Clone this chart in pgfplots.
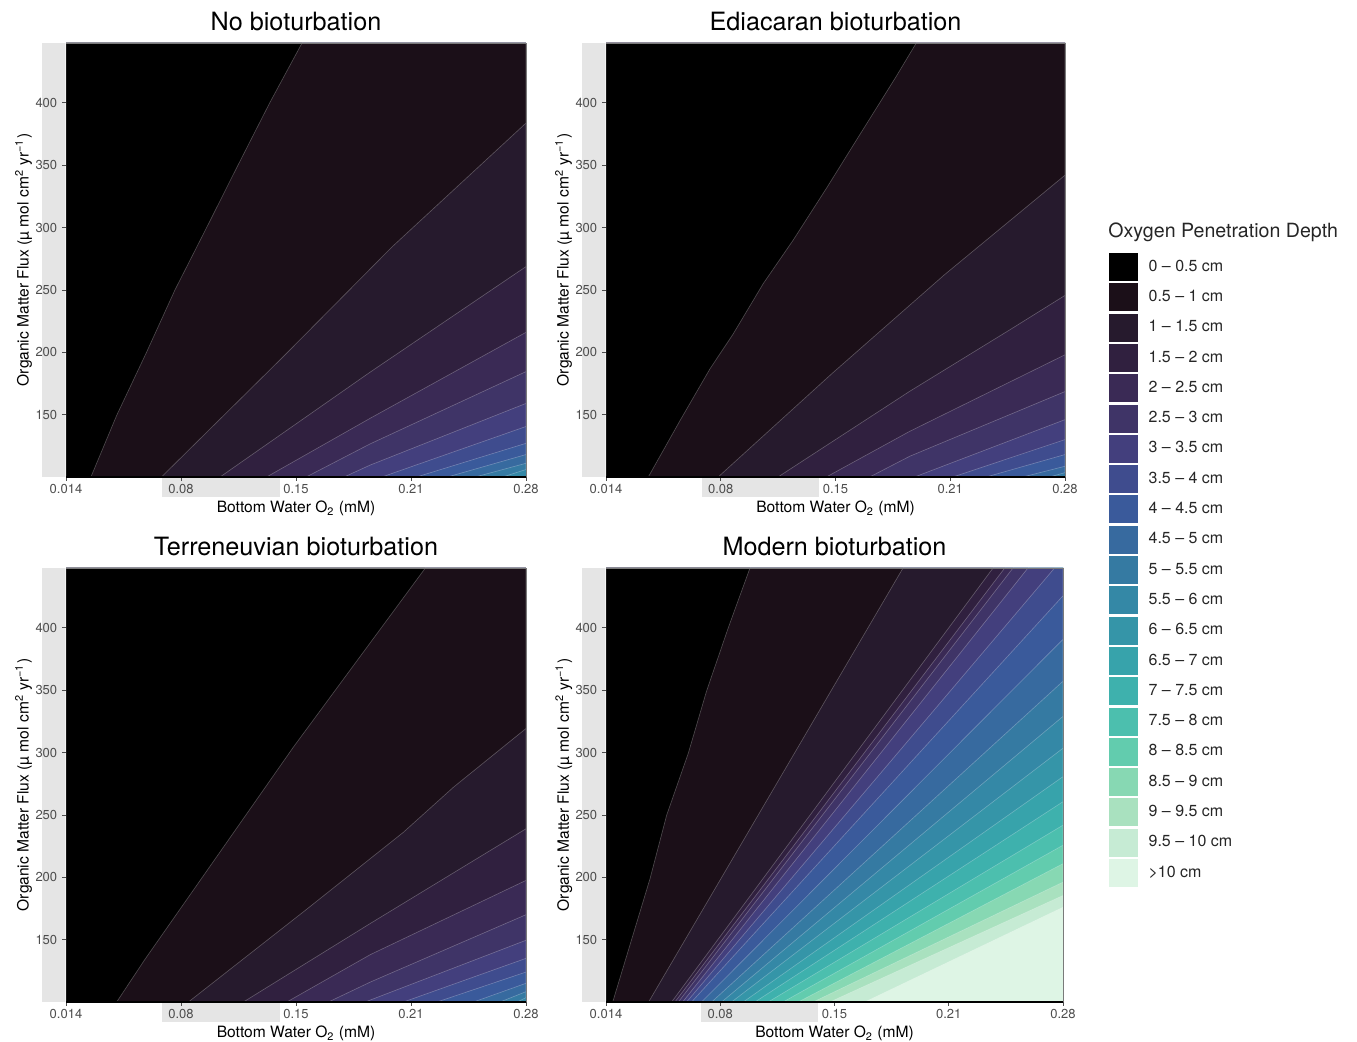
\documentclass[border=0pt]{standalone}
\usepackage{fontspec}
\setmainfont{TeX Gyre Heros}
\usepackage{pgfplots}
\pgfplotsset{compat=1.18}
\definecolor{c0}{HTML}{000000}
\definecolor{c1}{HTML}{1B0F18}
\definecolor{c2}{HTML}{261A2D}
\definecolor{c3}{HTML}{30203F}
\definecolor{c4}{HTML}{3A2A55}
\definecolor{c5}{HTML}{3F3467}
\definecolor{c6}{HTML}{433F7D}
\definecolor{c7}{HTML}{3F4C8E}
\definecolor{c8}{HTML}{3A5A9B}
\definecolor{c9}{HTML}{376A9F}
\definecolor{c10}{HTML}{357AA2}
\definecolor{c11}{HTML}{3488A6}
\definecolor{c12}{HTML}{3595A8}
\definecolor{c13}{HTML}{37A3AB}
\definecolor{c14}{HTML}{3EB1AD}
\definecolor{c15}{HTML}{4CBFAE}
\definecolor{c16}{HTML}{62CCAE}
\definecolor{c17}{HTML}{87D8B3}
\definecolor{c18}{HTML}{A9E1BF}
\definecolor{c19}{HTML}{C6EBD4}
\definecolor{c20}{HTML}{DEF5E5}
\definecolor{strip}{HTML}{E5E5E5}
\definecolor{ticktxt}{HTML}{4D4D4D}
\definecolor{framec}{HTML}{7A7A7A}
\pgfplotsset{
  cf/.style={forget plot, fill=#1, draw=white, draw opacity=0.28, line width=0.3pt},
  panel/.style={
    scale only axis, width=230pt, height=217pt,
    xmin=0.014, xmax=0.28, ymin=100, ymax=448,
    axis on top, clip=false,
    axis lines*=left, axis line style={-},
    x axis line style={black, line width=0.6pt},
    y axis line style={draw=none},
    tick align=outside, major tick length=2pt,
    major tick style={ticktxt, line width=0.4pt},
    xtick={0.014,0.0805,0.147,0.2135,0.28},
    xticklabels={0.014,0.08,0.15,0.21,0.28},
    ytick={150,200,250,300,350,400},
    yticklabels={150,200,250,300,350,400},
    /pgf/number format/assume math mode=true,
    tick label style={font=\fontsize{6.5}{7}\selectfont, color=ticktxt},
    xticklabel style={anchor=north, inner sep=1.5pt},
    yticklabel style={anchor=east, inner sep=2.2pt},
    title style={font=\fontsize{12.6}{14}\selectfont, at={(0.5,1)}, anchor=base, yshift=0.2pt, inner sep=0pt},
    xlabel={Bottom Water O\textsubscript{2} (mM)},
    ylabel={Organic Matter Flux (µ mol cm\textsuperscript{2} yr\textsuperscript{−1})},
    label style={font=\fontsize{7.8}{9}\selectfont},
    xlabel style={at={(axis description cs:0.5,-0.0829)}, anchor=base, inner sep=0pt},
    ylabel style={at={(axis description cs:-0.0815,0.5)}, anchor=base, inner sep=0pt},
  }
}
\begin{document}
\begin{tikzpicture}
\path[use as bounding box] (0pt,0pt) rectangle (678.5pt,-521pt);

% ---------------- Panel 1: No bioturbation
\begin{axis}[panel, at={(33pt,-238.5pt)}, anchor=south west, width=230pt, title={No bioturbation}]
\addplot[forget plot, fill=strip, draw=none] coordinates {(0,100) (0.014,100) (0.014,448) (0,448)};
\addplot[forget plot, fill=strip, draw=none] coordinates {(0.0695,84) (0.1377,84) (0.1377,100) (0.0695,100)};
\addplot[forget plot, fill=c11, draw=none] coordinates {(0.014,100) (0.28,100) (0.28,448) (0.014,448)};
\addplot[cf=c10] coordinates {(0.2665,100) (0.28,106) (0.28,448) (0.014,448) (0.014,100)};
\addplot[cf=c9] coordinates {(0.2506,100) (0.28,111) (0.28,448) (0.014,448) (0.014,100)};
\addplot[cf=c8] coordinates {(0.2346,100) (0.28,118) (0.28,448) (0.014,448) (0.014,100)};
\addplot[cf=c7] coordinates {(0.2167,100) (0.28,127) (0.28,448) (0.014,448) (0.014,100)};
\addplot[cf=c6] coordinates {(0.1967,100) (0.28,140.5) (0.28,448) (0.014,448) (0.014,100)};
\addplot[cf=c5] coordinates {(0.1748,100) (0.1898,109.5) (0.28,159) (0.28,448) (0.014,448) (0.014,100)};
\addplot[cf=c4] coordinates {(0.1529,100) (0.1898,126.5) (0.28,184.5) (0.28,448) (0.014,448) (0.014,100)};
\addplot[cf=c3] coordinates {(0.1300,100) (0.1898,147) (0.28,216) (0.28,448) (0.014,448) (0.014,100)};
\addplot[cf=c2] coordinates {(0.1031,100) (0.1898,184) (0.28,268.7) (0.28,448) (0.014,448) (0.014,100)};
\addplot[cf=c1] coordinates {(0.0692,100) (0.14,197) (0.2027,284.7) (0.28,383.8) (0.28,448) (0.014,448) (0.014,100)};
\addplot[cf=c0] coordinates {(0.0284,100) (0.0433,149.4) (0.0603,199.2) (0.0770,250) (0.0951,299.4) (0.1130,348.8) (0.1318,400) (0.1505,448) (0.014,448) (0.014,100)};
\draw[framec, line width=0.4pt] (rel axis cs:0,1) -- (rel axis cs:1,1) -- (rel axis cs:1,0);
\end{axis}

% ---------------- Panel 2: Ediacaran bioturbation
\begin{axis}[panel, at={(303pt,-238.5pt)}, anchor=south west, width=229.5pt, title={Ediacaran bioturbation},
  legend style={at={(1.0959,0.5161)}, anchor=north west, draw=none, fill=none, inner sep=0pt, outer sep=0pt,
    row sep=1.15pt, font=\fontsize{8}{9}\selectfont, text=black!85, nodes={inner sep=0pt},
    /tikz/every odd column/.append style={column sep=5.5pt}},
  legend cell align=left,
  legend image code/.code={\fill[#1, draw=none] (0pt,-7pt) rectangle (14.3pt,7pt);}]
\addplot[forget plot, fill=strip, draw=none] coordinates {(0,100) (0.014,100) (0.014,448) (0,448)};
\addplot[forget plot, fill=strip, draw=none] coordinates {(0.0695,84) (0.1377,84) (0.1377,100) (0.0695,100)};
\addplot[forget plot, fill=c10, draw=none] coordinates {(0.014,100) (0.28,100) (0.28,448) (0.014,448)};
\addplot[cf=c9] coordinates {(0.271,100) (0.28,103.5) (0.28,448) (0.014,448) (0.014,100)};
\addplot[cf=c8] coordinates {(0.2555,100) (0.28,108.6) (0.28,448) (0.014,448) (0.014,100)};
\addplot[cf=c7] coordinates {(0.2343,100) (0.28,118) (0.28,448) (0.014,448) (0.014,100)};
\addplot[cf=c6] coordinates {(0.2150,100) (0.28,130) (0.28,448) (0.014,448) (0.014,100)};
\addplot[cf=c5] coordinates {(0.1928,100) (0.28,146) (0.28,448) (0.014,448) (0.014,100)};
\addplot[cf=c4] coordinates {(0.1668,100) (0.19,116.6) (0.28,168.5) (0.28,448) (0.014,448) (0.014,100)};
\addplot[cf=c3] coordinates {(0.1417,100) (0.19,136.6) (0.28,198) (0.28,448) (0.014,448) (0.014,100)};
\addplot[cf=c2] coordinates {(0.1137,100) (0.19,168.7) (0.248,218) (0.28,245.6) (0.28,448) (0.014,448) (0.014,100)};
\addplot[cf=c1] coordinates {(0.079,100) (0.145,183) (0.21,262) (0.28,342) (0.28,448) (0.014,448) (0.014,100)};
\addplot[cf=c0] coordinates {(0.0385,100) (0.0568,145) (0.0742,186.6) (0.0877,214.7) (0.1051,255) (0.1224,289.8) (0.1417,331.4) (0.161,374.3) (0.1822,421.2) (0.1938,448) (0.014,448) (0.014,100)};
\draw[framec, line width=0.4pt] (rel axis cs:0,1) -- (rel axis cs:1,1) -- (rel axis cs:1,0);
\node[anchor=base west, font=\fontsize{9.8}{11}\selectfont, inner sep=0pt, text=black!85] at (rel axis cs:1.0937,0.5507) {Oxygen Penetration Depth};
\addlegendimage{fill=c0}\addlegendentry{0 – 0.5 cm}
\addlegendimage{fill=c1}\addlegendentry{0.5 – 1 cm}
\addlegendimage{fill=c2}\addlegendentry{1 – 1.5 cm}
\addlegendimage{fill=c3}\addlegendentry{1.5 – 2 cm}
\addlegendimage{fill=c4}\addlegendentry{2 – 2.5 cm}
\addlegendimage{fill=c5}\addlegendentry{2.5 – 3 cm}
\addlegendimage{fill=c6}\addlegendentry{3 – 3.5 cm}
\addlegendimage{fill=c7}\addlegendentry{3.5 – 4 cm}
\addlegendimage{fill=c8}\addlegendentry{4 – 4.5 cm}
\addlegendimage{fill=c9}\addlegendentry{4.5 – 5 cm}
\addlegendimage{fill=c10}\addlegendentry{5 – 5.5 cm}
\addlegendimage{fill=c11}\addlegendentry{5.5 – 6 cm}
\addlegendimage{fill=c12}\addlegendentry{6 – 6.5 cm}
\addlegendimage{fill=c13}\addlegendentry{6.5 – 7 cm}
\addlegendimage{fill=c14}\addlegendentry{7 – 7.5 cm}
\addlegendimage{fill=c15}\addlegendentry{7.5 – 8 cm}
\addlegendimage{fill=c16}\addlegendentry{8 – 8.5 cm}
\addlegendimage{fill=c17}\addlegendentry{8.5 – 9 cm}
\addlegendimage{fill=c18}\addlegendentry{9 – 9.5 cm}
\addlegendimage{fill=c19}\addlegendentry{9.5 – 10 cm}
\addlegendimage{fill=c20}\addlegendentry{>10 cm}
\end{axis}

% ---------------- Panel 3: Terreneuvian bioturbation
\begin{axis}[panel, at={(33pt,-501pt)}, anchor=south west, width=230pt, title={Terreneuvian bioturbation}]
\addplot[forget plot, fill=strip, draw=none] coordinates {(0,100) (0.014,100) (0.014,448) (0,448)};
\addplot[forget plot, fill=strip, draw=none] coordinates {(0.0695,84) (0.1377,84) (0.1377,100) (0.0695,100)};
\addplot[forget plot, fill=c11, draw=none] coordinates {(0.014,100) (0.28,100) (0.28,448) (0.014,448)};
\addplot[cf=c10] coordinates {(0.275,100) (0.28,103.5) (0.28,448) (0.014,448) (0.014,100)};
\addplot[cf=c9] coordinates {(0.265,100) (0.28,108.3) (0.28,448) (0.014,448) (0.014,100)};
\addplot[cf=c8] coordinates {(0.2497,100) (0.28,115) (0.28,448) (0.014,448) (0.014,100)};
\addplot[cf=c7] coordinates {(0.2285,100) (0.28,124) (0.28,448) (0.014,448) (0.014,100)};
\addplot[cf=c6] coordinates {(0.2092,100) (0.28,135) (0.28,448) (0.014,448) (0.014,100)};
\addplot[cf=c5] coordinates {(0.187,100) (0.28,149.5) (0.28,448) (0.014,448) (0.014,100)};
\addplot[cf=c4] coordinates {(0.1658,100) (0.19,116) (0.28,170) (0.28,448) (0.014,448) (0.014,100)};
\addplot[cf=c3] coordinates {(0.1417,100) (0.19,138) (0.28,197.5) (0.28,448) (0.014,448) (0.014,100)};
\addplot[cf=c2] coordinates {(0.1166,100) (0.19,163) (0.28,238.9) (0.28,448) (0.014,448) (0.014,100)};
\addplot[cf=c1] coordinates {(0.0848,100) (0.1533,174.5) (0.2092,236.2) (0.2382,272.4) (0.28,319.3) (0.28,448) (0.014,448) (0.014,100)};
\addplot[cf=c0] coordinates {(0.0433,100) (0.0597,134.3) (0.1456,304.6) (0.2218,448) (0.014,448) (0.014,100)};
\draw[framec, line width=0.4pt] (rel axis cs:0,1) -- (rel axis cs:1,1) -- (rel axis cs:1,0);
\end{axis}

% ---------------- Panel 4: Modern bioturbation
\begin{axis}[panel, at={(303pt,-501pt)}, anchor=south west, width=228.5pt, title={Modern bioturbation}]
\addplot[forget plot, fill=strip, draw=none] coordinates {(0,100) (0.014,100) (0.014,448) (0,448)};
\addplot[forget plot, fill=strip, draw=none] coordinates {(0.0693,84) (0.1374,84) (0.1374,100) (0.0693,100)};
\addplot[forget plot, fill=c20, draw=none] coordinates {(0.014,100) (0.28,100) (0.28,448) (0.014,448)};
\addplot[cf=c19] coordinates {(0.1646,100) (0.28,176.0) (0.28,448) (0.014,448) (0.014,100)};
\addplot[cf=c18] coordinates {(0.1443,100) (0.28,185.4) (0.28,448) (0.014,448) (0.014,100)};
\addplot[cf=c17] coordinates {(0.1346,100) (0.28,196.1) (0.28,448) (0.014,448) (0.014,100)};
\addplot[cf=c16] coordinates {(0.1259,100) (0.28,210.9) (0.28,448) (0.014,448) (0.014,100)};
\addplot[cf=c15] coordinates {(0.1171,100) (0.28,225.7) (0.28,448) (0.014,448) (0.014,100)};
\addplot[cf=c14] coordinates {(0.1084,100) (0.28,241.8) (0.28,448) (0.014,448) (0.014,100)};
\addplot[cf=c13] coordinates {(0.1007,100) (0.28,260.6) (0.28,448) (0.014,448) (0.014,100)};
\addplot[cf=c12] coordinates {(0.0939,100) (0.28,280.7) (0.28,448) (0.014,448) (0.014,100)};
\addplot[cf=c11] coordinates {(0.0871,100) (0.28,303.5) (0.28,448) (0.014,448) (0.014,100)};
\addplot[cf=c10] coordinates {(0.0813,100) (0.28,329.0) (0.28,448) (0.014,448) (0.014,100)};
\addplot[cf=c9] coordinates {(0.0755,100) (0.28,357.2) (0.28,448) (0.014,448) (0.014,100)};
\addplot[cf=c8] coordinates {(0.0696,100) (0.28,390.8) (0.28,448) (0.014,448) (0.014,100)};
\addplot[cf=c7] coordinates {(0.0638,100) (0.28,425.7) (0.28,448) (0.014,448) (0.014,100)};
\addplot[cf=c6] coordinates {(0.0609,100) (0.2751,448) (0.014,448) (0.014,100)};
\addplot[cf=c5] coordinates {(0.0586,100) (0.2596,448) (0.014,448) (0.014,100)};
\addplot[cf=c4] coordinates {(0.0561,100) (0.2509,448) (0.014,448) (0.014,100)};
\addplot[cf=c3] coordinates {(0.0541,100) (0.2461,448) (0.014,448) (0.014,100)};
\addplot[cf=c2] coordinates {(0.0522,100) (0.2393,448) (0.014,448) (0.014,100)};
\addplot[cf=c1] coordinates {(0.0388,100) (0.1869,448) (0.014,448) (0.014,100)};
\addplot[cf=c0] coordinates {(0.0179,100) (0.0396,198.8) (0.0493,249.8) (0.0619,299.5) (0.0725,349.2) (0.0852,400.2) (0.0978,448) (0.014,448) (0.014,100)};
\draw[framec, line width=0.4pt] (rel axis cs:0,1) -- (rel axis cs:1,1) -- (rel axis cs:1,0);
\end{axis}
\end{tikzpicture}
\end{document}
